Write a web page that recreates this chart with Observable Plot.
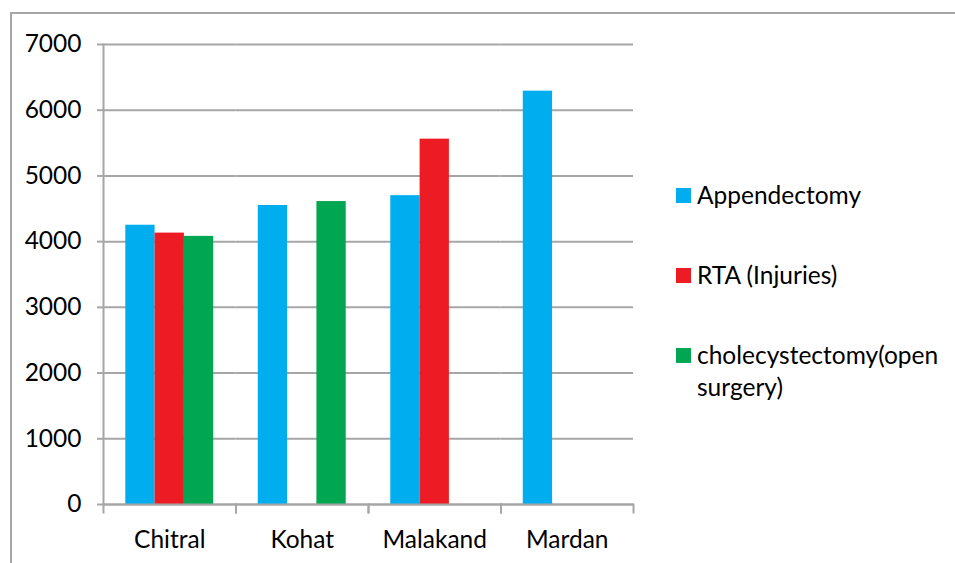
<!DOCTYPE html>
<html>
<head>
<meta charset="utf-8">
<script src="https://cdn.jsdelivr.net/npm/d3@7"></script>
<script src="https://cdn.jsdelivr.net/npm/@observablehq/plot@0.6"></script>
<style>
  html, body { margin: 0; padding: 0; background: #fff; }
  #wrap { position: relative; width: 955px; height: 563px; overflow: hidden; font-family: Lato, sans-serif; }
  #border { position: absolute; left: 10px; top: 12px; width: 1000px; height: 600px; border: 2px solid #a6a6a6; box-sizing: border-box; }
  #chart { position: absolute; left: 0; top: 0; }
  #legend { position: absolute; left: 676px; top: 179px; width: 272px; font-size: 24.5px; line-height: 32px; color: #000; }
  .item { display: flex; align-items: flex-start; margin-bottom: 48px; }
  .sw { width: 15px; height: 15px; flex: none; margin-top: 9px; margin-right: 6px; }
</style>
</head>
<body>
<div id="wrap">
  <div id="border"></div>
  <div id="chart"></div>
  <div id="legend"></div>
</div>
<script>
const categories = ["Chitral", "Kohat", "Malakand", "Mardan"];
const series = ["Appendectomy", "RTA (Injuries)", "cholecystectomy(open surgery)"];
const colors = ["#00aeef", "#ed1c24", "#00a651"];
const appendectomy = [4250, 4550, 4700, 6290];
const rta = [4130, null, 5560, null];
const cholecystectomy = [4080, 4610, null, null];
const yTicks = [0, 1000, 2000, 3000, 4000, 5000, 6000, 7000];

const values = [appendectomy, rta, cholecystectomy];
const data = [];
categories.forEach((c, i) => {
  series.forEach((s, j) => {
    if (values[j][i] != null) data.push({category: c, series: s, value: values[j][i]});
  });
});

const gray = "#a6a6a6";
const chart = Plot.plot({
  width: 955,
  height: 563,
  marginLeft: 103,
  marginRight: 322,
  marginTop: 44,
  marginBottom: 59,
  style: {fontFamily: "Lato, sans-serif", fontSize: "24.5px", color: "#000", background: "transparent"},
  fx: {domain: categories, padding: 0, label: null, round: false},
  x: {domain: series, paddingInner: 0, paddingOuter: 0.76, axis: null, round: false},
  y: {domain: [0, 7000], label: null},
  color: {domain: series, range: colors},
  marks: [
    Plot.gridY(yTicks, {stroke: gray, strokeOpacity: 1, strokeWidth: 2}),
    Plot.barY(data, {fx: "category", x: "series", y: "value", fill: "series"}),
    Plot.ruleY([0], {stroke: gray, strokeWidth: 2}),
    Plot.frame({anchor: "left", facetAnchor: "left", stroke: gray, strokeWidth: 2}),
    Plot.frame({anchor: "left", stroke: gray, strokeWidth: 2, insetTop: 460, insetBottom: -8}),
    Plot.frame({anchor: "right", stroke: gray, strokeWidth: 2, insetTop: 460, insetBottom: -8}),
    Plot.axisY(yTicks, {tickSize: 6, tickPadding: 16, stroke: gray, strokeWidth: 2, tickFormat: d3.format("d"), fontSize: 24.5, label: null}),
    Plot.axisFx({anchor: "bottom", tickSize: 0, tickPadding: 26, fontSize: 24.5, label: null})
  ]
});
document.getElementById("chart").appendChild(chart);

const legend = document.getElementById("legend");
series.forEach((s, i) => {
  const item = document.createElement("div");
  item.className = "item";
  const sw = document.createElement("div");
  sw.className = "sw";
  sw.style.background = colors[i];
  const t = document.createElement("div");
  t.textContent = s;
  item.appendChild(sw);
  item.appendChild(t);
  legend.appendChild(item);
});
</script>
</body>
</html>
